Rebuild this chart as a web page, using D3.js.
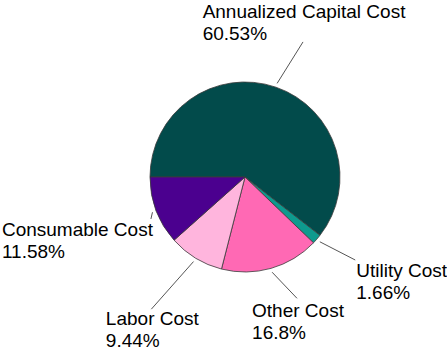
<!DOCTYPE html>
<html>
<head>
<meta charset="utf-8">
<script src="https://cdn.jsdelivr.net/npm/d3@7"></script>
<style>
html,body{margin:0;padding:0;background:#fff;}
svg{display:block;}
text{font-family:"Liberation Sans",Arial,sans-serif;font-size:19px;fill:#000;}
</style>
</head>
<body>
<svg id="chart" width="447" height="350"></svg>
<script>
const categories = ["Annualized Capital Cost","Utility Cost","Other Cost","Labor Cost","Consumable Cost"];
const values = [60.53, 1.66, 16.8, 9.44, 11.58];
const valueLabels = ["60.53%","1.66%","16.8%","9.44%","11.58%"];
const colors = ["#024B4B","#0E9A8E","#FF69B4","#FFB5DD","#4B008F"];

// layout: leader line outer end (radius, angle offset in degrees), label block alignment and offsets
const leaderOuter = [147, 138, 132, 162, 103];
const leaderTurn = [4.3, -3.9, -7.3, 4.0, -3.2];
const labelAlign = ["center","left","center","center","right"];
const labelDx = [1, 1, 1, 1, 2];
const labelDy = [-23.7, 17.3, 18.4, 15.7, 16.7];
const lineGap = 22;

const cx = 245, cy = 177, R = 95, lineInner = 99;
const svg = d3.select("#chart");
const g = svg.append("g").attr("transform", `translate(${cx},${cy})`);

const pie = d3.pie().sort(null).value(d => d)
  .startAngle(-Math.PI/2).endAngle(3*Math.PI/2);
const arcs = pie(values);
const arc = d3.arc().innerRadius(0).outerRadius(R);

g.selectAll("path.slice").data(arcs).join("path")
  .attr("class","slice")
  .attr("d", arc)
  .attr("fill", (d,i) => colors[i])
  .attr("stroke", "#3a3a3a")
  .attr("stroke-width", 0.8);

const pt = (a, r) => [r*Math.sin(a), -r*Math.cos(a)];

arcs.forEach((d,i) => {
  const m = (d.startAngle + d.endAngle)/2;
  const p0 = pt(m, lineInner), p1 = pt(m + leaderTurn[i]*Math.PI/180, leaderOuter[i]);
  g.append("line")
    .attr("x1", p0[0]).attr("y1", p0[1])
    .attr("x2", p1[0]).attr("y2", p1[1])
    .attr("stroke", "#555").attr("stroke-width", 1);
  const t = g.append("text").attr("text-anchor", "start");
  const s1 = t.append("tspan").text(categories[i]);
  const s2 = t.append("tspan").text(valueLabels[i]);
  const w = Math.max(s1.node().getComputedTextLength(), s2.node().getComputedTextLength());
  const ax = p1[0] + labelDx[i];
  let left = ax;
  if (labelAlign[i] === "center") left = ax - w/2;
  else if (labelAlign[i] === "right") left = ax - w;
  const y0 = p1[1] + labelDy[i];
  s1.attr("x", left).attr("y", y0);
  s2.attr("x", left).attr("y", y0 + lineGap);
});
</script>
</body>
</html>
